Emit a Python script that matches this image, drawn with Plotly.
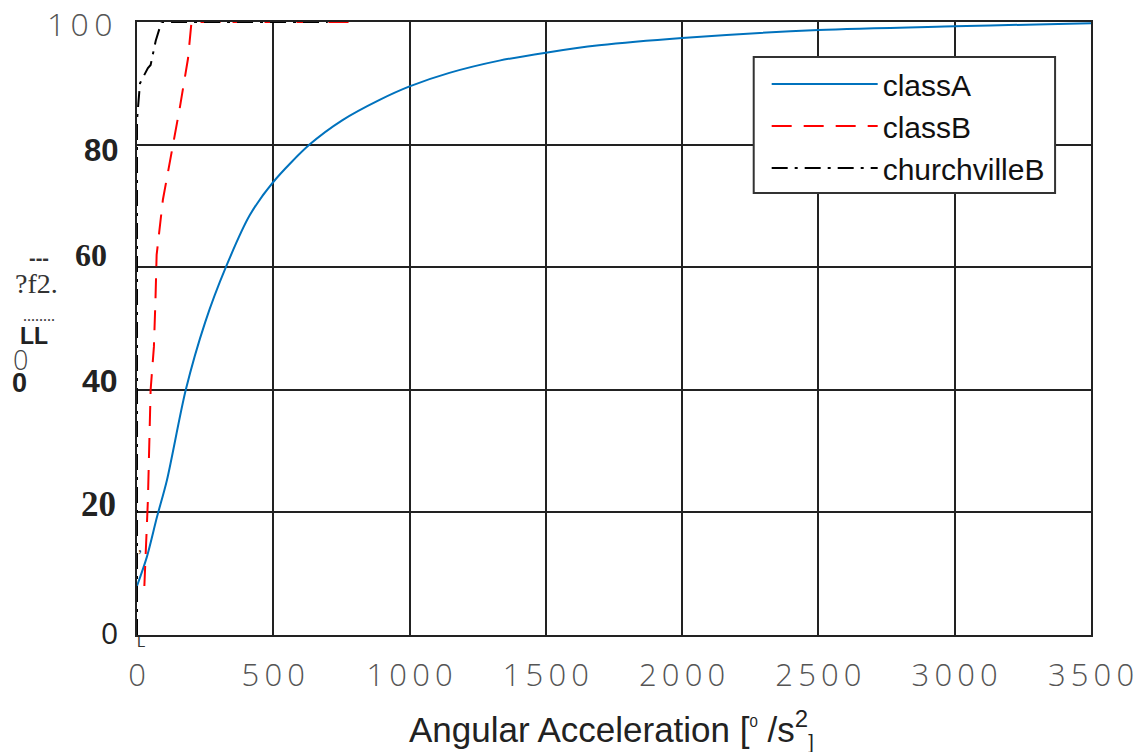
import plotly.graph_objects as go

# CDF curves (percent) against angular acceleration (deg/s^2)
accel_a = [0, 36, 73, 110, 179, 250, 326, 414, 500, 633, 754, 890, 1000, 1146, 1329, 1500, 1695, 2000, 2500, 3000, 3300, 3500]
cdf_a = [8, 12.7, 19.2, 25.3, 40, 51, 60, 68.5, 73.9, 80, 84.0, 87.3, 89.5, 91.7, 93.7, 95.0, 96.2, 97.4, 98.7, 99.3, 99.6, 99.8]

accel_b = [27, 33, 40, 50, 62, 68, 72, 95, 132, 157, 187, 200, 500, 800]
cdf_b = [8, 15, 22, 40, 47, 55, 62, 71, 80, 86, 94, 100, 100, 100]

accel_c = [0, 0, 11, 40, 50, 69, 90, 300, 700]
cdf_c = [0, 84, 90, 92.5, 93, 97, 100, 100, 100]

series_names = ["classA", "classB", "churchvilleB"]

x_ticks = [0, 500, 1000, 1500, 2000, 2500, 3000, 3500]
y_ticks = [0, 20, 40, 60, 80, 100]
y_tick_labels = ["0", "20", "40", "60", "80", "100"]

THIN = "\u2009"

fig = go.Figure()
fig.add_trace(go.Scatter(x=accel_a, y=cdf_a, mode="lines", name=series_names[0],
                         line=dict(color="#0072BD", width=2, shape="spline", smoothing=0.8),
                         legendgroup="a"))
fig.add_trace(go.Scatter(x=accel_b, y=cdf_b, mode="lines", name=series_names[1],
                         line=dict(color="#FF0000", width=2, dash="20px,12px"), legendgroup="b"))
fig.add_trace(go.Scatter(x=accel_c, y=cdf_c, mode="lines", name=series_names[2],
                         line=dict(color="#000000", width=2, dash="16px,7px,3px,7px"), legendgroup="c"))

# y tick labels, each with its own typeface
y_label_styles = {
    0: dict(family="Open Sans", size=30, color="#222", weight=500, dy=3),
    20: dict(family="Liberation Serif", size=35, color="#222", weight=700, dy=8),
    40: dict(family="Liberation Sans", size=32, color="#222", weight=700, dy=9),
    60: dict(family="Liberation Serif", size=32, color="#222", weight=700, dy=12),
    80: dict(family="Liberation Sans", size=31, color="#222", weight=700, dy=-6),
    100: dict(family="Open Sans", size=32, color="#555", weight=300, dy=-1),
}
y_label_right = {0: 120, 20: 118, 40: 120, 60: 109, 80: 120, 100: 114}

PLOT_L, PLOT_R, PLOT_T, PLOT_B = 137, 1093, 22, 635
W = PLOT_R - PLOT_L
H = PLOT_B - PLOT_T


def px_x(px):
    return (px - PLOT_L) / W


def px_y(py):
    return (PLOT_B - py) / H


annotations = []
for val, txt in zip(y_ticks, y_tick_labels):
    st = y_label_styles[val]
    label = THIN.join(txt) if val == 100 else txt
    annotations.append(dict(
        x=px_x(y_label_right[val]), xref="paper", y=val, yref="y",
        text=label, showarrow=False, xanchor="right", yanchor="middle",
        yshift=st["dy"],
        font=dict(family=st["family"], size=st["size"], color=st["color"], weight=st["weight"]),
    ))

# y-axis caption fragments
caption_bits = [
    ("---", 39, 258, "Liberation Sans", 20, 700, "#333"),
    ("?f2.", 36, 283, "Liberation Serif", 28, 400, "#333"),
    ("........", 39, 316, "Liberation Serif", 16, 400, "#333"),
    ("LL", 34, 336, "Liberation Sans", 23, 700, "#222"),
    ("0", 20, 359, "Open Sans", 27, 300, "#444"),
    ("0", 19, 383, "Liberation Sans", 27, 700, "#222"),
    ("L", 141, 641, "Liberation Sans", 15, 400, "#333"),
    (",", 140, 546, "Liberation Serif", 16, 400, "#333"),
]
for txt, cx, cy, fam, size, weight, col in caption_bits:
    annotations.append(dict(
        x=px_x(cx), y=px_y(cy), xref="paper", yref="paper", text=txt,
        showarrow=False, xanchor="center", yanchor="middle",
        font=dict(family=fam, size=size, color=col, weight=weight),
    ))

# x-axis title
annotations.append(dict(
    x=px_x(612), y=px_y(729), xref="paper", yref="paper",
    text=("Angular Acceleration [<sup><span style='font-size:15px'>0</span></sup> /s"
          "<sup><span style='font-size:24px'>2</span></sup>"
          "<sub><span style='font-size:20px'>]</span></sub>"),
    showarrow=False, xanchor="center", yanchor="middle",
    font=dict(family="Liberation Sans", size=35, color="#222"),
))

# legend frame
shapes = [dict(
    type="rect", xref="paper", yref="paper", layer="above",
    x0=px_x(755), x1=px_x(1057), y0=px_y(193), y1=px_y(57),
    fillcolor="white", line=dict(color="#333", width=2),
)]

fig.update_layout(
    width=1146, height=752,
    margin=dict(l=PLOT_L, r=1146 - PLOT_R, t=PLOT_T, b=752 - PLOT_B),
    paper_bgcolor="white", plot_bgcolor="white",
    showlegend=True,
    legend=dict(
        x=px_x(768), y=px_y(58), xanchor="left", yanchor="top",
        bgcolor="rgba(0,0,0,0)", borderwidth=0,
        font=dict(family="Liberation Sans", size=30, color="#111"),
        itemwidth=106, tracegroupgap=0, traceorder="grouped",
    ),
    annotations=annotations,
    shapes=shapes,
)

fig.update_xaxes(
    range=[0, 3500], tickvals=x_ticks,
    ticktext=[THIN.join(str(v)) for v in x_ticks],
    tickfont=dict(family="Open Sans", size=31, color="#555", weight=300),
    showgrid=True, gridcolor="#222", gridwidth=2,
    showline=True, linecolor="#222", linewidth=2, mirror=True,
    zeroline=False, ticks="", ticklabelstandoff=12,
)
fig.update_yaxes(
    range=[0, 100], tickvals=y_ticks, showticklabels=False,
    showgrid=True, gridcolor="#222", gridwidth=2,
    showline=True, linecolor="#222", linewidth=2, mirror=True,
    zeroline=False, ticks="",
)

fig.write_html("out.html")
